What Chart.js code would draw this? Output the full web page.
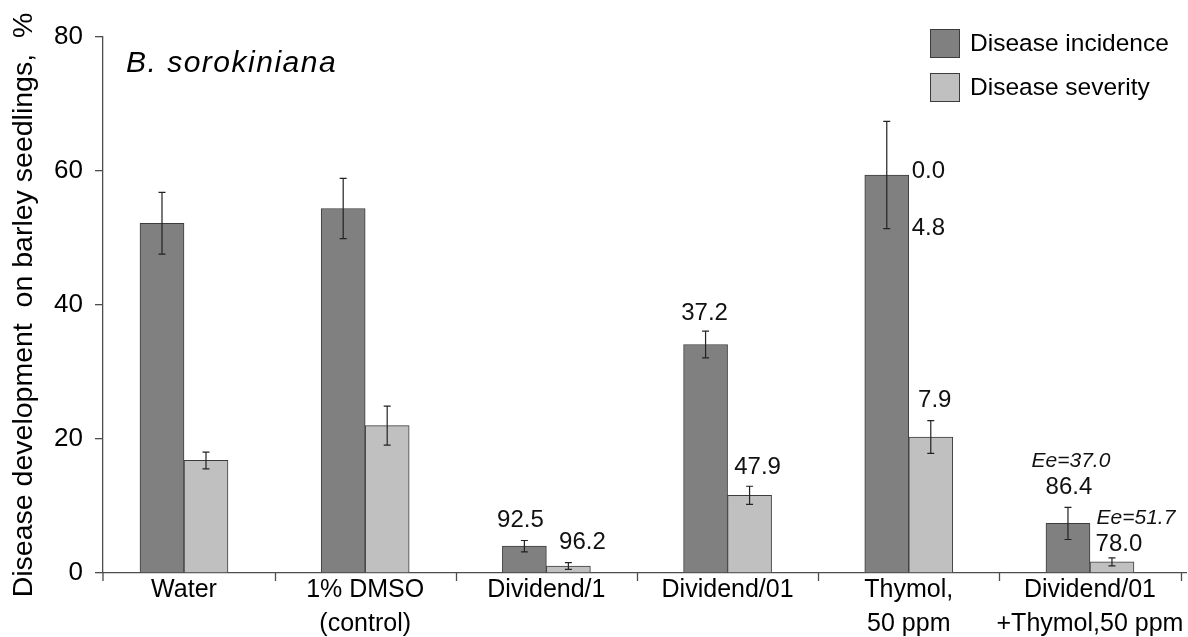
<!DOCTYPE html>
<html>
<head>
<meta charset="utf-8">
<script src="https://cdn.jsdelivr.net/npm/chart.js@4.4.1/dist/chart.umd.min.js"></script>
<style>
    html, body { margin: 0; padding: 0; background: #fff; }
    #wrap { width: 1188px; height: 637px; }
</style>
</head>
<body>
<div id="wrap"><canvas id="chart"></canvas></div>
<script>
// ==========================================
// DATA
// ==========================================
const categories = [
    ['Water'],
    ['1% DMSO', '(control)'],
    ['Dividend/1'],
    ['Dividend/01'],
    ['Thymol,', '50 ppm'],
    ['Dividend/01', '+Thymol,50 ppm']
];
const incidence    = [52.2, 54.4, 4.0, 34.1, 59.4, 7.4];
const incidenceErr = [4.6, 4.5, 0.85, 2.0, 8.0, 2.4];
const severity     = [16.8, 22.0, 1.05, 11.6, 20.3, 1.65];
const severityErr  = [1.25, 2.9, 0.5, 1.35, 2.45, 0.6];

// efficacy labels printed over the bars
const incidenceEff = ['', '', '92.5', '37.2', '0.0', '86.4'];
const severityEff  = ['', '', '96.2', '47.9', '7.9', '78.0'];
const sideNote     = ['', '', '', '', '4.8', ''];
const expectedInc  = ['', '', '', '', '', 'Ee=37.0'];
const expectedSev  = ['', '', '', '', '', 'Ee=51.7'];

const yTicks = [0, 20, 40, 60, 80];

// ==========================================
// STYLE
// ==========================================
const FONT = "'Liberation Sans', Arial, sans-serif";
const AXIS_COLOR = '#4d4d4d';
const DARK = '#808080';
const LIGHT = '#c0c0c0';
const EDGE = '#3c3c3c';

// small shifts of the efficacy labels (dx, dy) relative to the default spot
const nudgeInc = { 2: [-4, 0], 3: [-1, 2], 5: [1, 0] };
const nudgeSev = { 2: [14, 0], 3: [8, 1], 4: [4, 0], 5: [7, 6] };
const nudgeEe  = { 0: [2, 0], 1: [24, 0] };

Chart.defaults.font.family = FONT;
Chart.defaults.color = '#000';

// error bars
const errorBarPlugin = {
    id: 'errorBars',
    afterDatasetsDraw(chart) {
        const ctx = chart.ctx;
        const y = chart.scales.y;
        ctx.save();
        ctx.strokeStyle = '#222';
        ctx.lineWidth = 1.2;
        chart.data.datasets.forEach((ds, di) => {
            const meta = chart.getDatasetMeta(di);
            meta.data.forEach((bar, i) => {
                const v = ds.data[i].y, e = ds.errors[i];
                const top = y.getPixelForValue(v + e);
                const bot = y.getPixelForValue(v - e);
                ctx.beginPath();
                ctx.moveTo(bar.x, top); ctx.lineTo(bar.x, bot);
                ctx.moveTo(bar.x - 3.5, top); ctx.lineTo(bar.x + 3.5, top);
                ctx.moveTo(bar.x - 3.5, bot); ctx.lineTo(bar.x + 3.5, bot);
                ctx.stroke();
            });
        });
        ctx.restore();
    }
};

// tick marks between categories, labels, legend, title
const decorPlugin = {
    id: 'decor',
    afterDraw(chart) {
        const ctx = chart.ctx;
        const x = chart.scales.x, y = chart.scales.y;
        const area = chart.chartArea;
        ctx.save();

        // category tick marks
        ctx.strokeStyle = AXIS_COLOR;
        ctx.lineWidth = 1.3;
        ctx.beginPath();
        for (let i = 0; i < categories.length; i++) {
            const px = Math.round(x.getPixelForValue(i + 0.5)) + 0.5;
            ctx.moveTo(px, area.bottom); ctx.lineTo(px, area.bottom + 8);
        }
        ctx.moveTo(area.left, area.bottom); ctx.lineTo(area.left, area.bottom + 8);
        ctx.stroke();

        // efficacy labels
        const incMeta = chart.getDatasetMeta(0), sevMeta = chart.getDatasetMeta(1);
        ctx.fillStyle = '#111';
        ctx.textBaseline = 'middle';
        ctx.textAlign = 'center';
        const errTop = (arr, err, i) => y.getPixelForValue(arr[i] + err[i]);

        categories.forEach((c, i) => {
            if (incidenceEff[i] && i !== 4) {
                const n = nudgeInc[i] || [0, 0];
                const bx = incMeta.data[i].x + n[0];
                const by = errTop(incidence, incidenceErr, i) - 20 + n[1];
                ctx.font = `24px ${FONT}`;
                ctx.fillText(incidenceEff[i], bx, by);
                if (expectedInc[i]) {
                    ctx.font = `italic 21px ${FONT}`;
                    ctx.fillText(expectedInc[i], bx + nudgeEe[0][0], by - 26);
                }
            }
            if (severityEff[i]) {
                const n = nudgeSev[i] || [0, 0];
                const bx = sevMeta.data[i].x + n[0];
                const by = errTop(severity, severityErr, i) - 20 + n[1];
                ctx.font = `24px ${FONT}`;
                ctx.fillText(severityEff[i], bx, by);
                if (expectedSev[i]) {
                    ctx.font = `italic 21px ${FONT}`;
                    ctx.fillText(expectedSev[i], sevMeta.data[i].x + nudgeEe[1][0], by - 26);
                }
            }
        });

        // Thymol: labels beside the incidence bar
        ctx.font = `24px ${FONT}`;
        ctx.textAlign = 'left';
        const tb = incMeta.data[4];
        const right = tb.x + tb.width / 2 + 3;
        ctx.fillText(incidenceEff[4], right, tb.y - 4);
        ctx.fillText(sideNote[4], right, tb.y + 53);

        // species name
        ctx.font = `italic 30px ${FONT}`;
        ctx.letterSpacing = '1.5px';
        ctx.fillStyle = '#000';
        ctx.fillText('B. sorokiniana', 126, 64);
        ctx.letterSpacing = '0px';

        // legend
        chart.data.datasets.forEach((ds, di) => {
            const ly = 29 + di * 44;
            ctx.fillStyle = ds.backgroundColor;
            ctx.fillRect(930, ly, 30, 29);
            ctx.strokeStyle = EDGE;
            ctx.lineWidth = 1;
            ctx.strokeRect(930.5, ly + 0.5, 29, 28);
            ctx.fillStyle = '#000';
            ctx.font = `24.5px ${FONT}`;
            ctx.fillText(ds.label, 970, ly + 15);
        });
        ctx.restore();
    }
};

new Chart(document.getElementById('chart'), {
    type: 'bar',
    data: {
        datasets: [
            {
                label: 'Disease incidence',
                data: incidence.map((v, i) => ({ x: i, y: v })),
                errors: incidenceErr,
                backgroundColor: DARK,
                borderColor: EDGE,
                borderWidth: 1,
                barThickness: 44
            },
            {
                label: 'Disease severity',
                data: severity.map((v, i) => ({ x: i, y: v })),
                errors: severityErr,
                backgroundColor: LIGHT,
                borderColor: EDGE,
                borderWidth: 1,
                barThickness: 44
            }
        ]
    },
    options: {
        responsive: true,
        maintainAspectRatio: false,
        animation: false,
        layout: { padding: { top: 37, right: 2, left: 0, bottom: 0 } },
        plugins: { legend: { display: false }, tooltip: { enabled: false } },
        scales: {
            x: {
                type: 'linear',
                offset: false,
                min: -0.447,
                max: 5.53,
                afterBuildTicks: s => { s.ticks = categories.map((c, i) => ({ value: i })); },
                afterFit: s => { s.height = 64; },
                ticks: {
                    callback: v => categories[v],
                    font: { size: 25, lineHeight: 1.36 },
                    color: '#000',
                    padding: 0,
                    maxRotation: 0,
                    autoSkip: false
                },
                grid: { display: false, drawTicks: false },
                border: { color: AXIS_COLOR, width: 1.3 }
            },
            y: {
                min: 0,
                max: 80,
                afterBuildTicks: s => { s.ticks = yTicks.map(v => ({ value: v })); },
                afterFit: s => { s.width = 103; },
                ticks: { font: { size: 26 }, color: '#000', padding: 12 },
                grid: { drawOnChartArea: false, drawTicks: true, tickLength: 8, color: AXIS_COLOR, lineWidth: 1.3 },
                border: { color: AXIS_COLOR, width: 1.3 },
                title: {
                    display: true,
                    text: 'Disease development  on barley seedlings,  %',
                    font: { size: 28.5 },
                    color: '#000',
                    padding: { top: 7, bottom: 0 }
                }
            }
        }
    },
    plugins: [errorBarPlugin, decorPlugin]
});
</script>
</body>
</html>
